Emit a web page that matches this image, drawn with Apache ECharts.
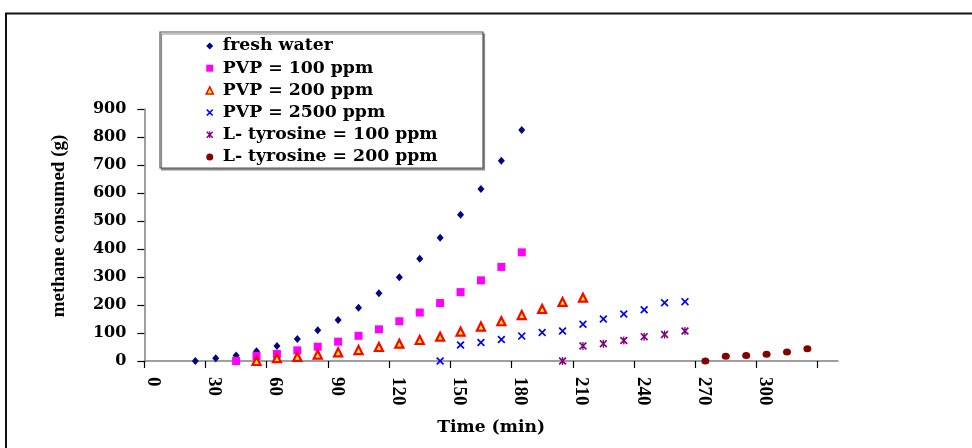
<!DOCTYPE html>
<html><head><meta charset="utf-8">
<script src="https://cdn.jsdelivr.net/npm/echarts@6/dist/echarts.min.js"></script>
<style>html,body{margin:0;padding:0;background:#fff}#c{width:972px;height:448px}</style>
</head><body><div id="c"></div>
<script>
// tick labels
const xTicks = [0,30,60,90,120,150,180,210,240,270,300,330];
const xLabels = [0,30,60,90,120,150,180,210,240,270,300];

// series (time in min, methane consumed in g)
const freshTime = [25,35,45,55,65,75,85,95,105,115,125,135,145,155,165,175,185];
const fresh     = [0,10,20,35,54,79,110,146,190,242,299,365,440,522,614,715,825];
const pvp100Time = [45,55,65,75,85,95,105,115,125,135,145,155,165,175,185];
const pvp100     = [0,18,25,38,51,69,90,113,142,173,207,246,288,336,388];
const pvp200Time = [55,65,75,85,95,105,115,125,135,145,155,165,175,185,195,205,215];
const pvp200     = [0,10,15,23,31,39,50,62,75,87,105,123,142,164,186,211,226];
const pvp2500Time = [145,155,165,175,185,195,205,215,225,235,245,255,265];
const pvp2500     = [0,57,66,77,89,102,107,131,150,168,183,208,212];
const tyr100Time = [205,215,225,235,245,255,265];
const tyr100     = [0,54,62,73,87,95,107];
const tyr200Time = [275,285,295,305,315,325];
const tyr200     = [0,17,20,24,32,44];

const names = ['fresh water','PVP = 100 ppm','PVP = 200 ppm','PVP = 2500 ppm','L- tyrosine = 100 ppm','L- tyrosine = 200 ppm'];

const crossPath = 'path://M1.5,0L5,3.5L8.5,0L10,1.5L6.5,5L10,8.5L8.5,10L5,6.5L1.5,10L0,8.5L3.5,5L0,1.5Z';
const starPath = 'path://M1.5,0L5,3.5L8.5,0L10,1.5L6.5,5L10,8.5L8.5,10L5,6.5L1.5,10L0,8.5L3.5,5L0,1.5Z M4.2,0L5.8,0L5.8,10L4.2,10Z';

function pairs(t, v) { return t.map((x, i) => [x, v[i]]); }

const serifB = {fontFamily: 'DejaVu Serif', fontWeight: 'bold', color: '#000'};
const timesB = {fontFamily: 'Liberation Serif', fontWeight: 'bold', color: '#000'};

const chart = echarts.init(document.getElementById('c'), null, {renderer: 'canvas'});
chart.setOption({
  animation: false,
  backgroundColor: '#fff',
  grid: {left: 144.3, right: 134, top: 109, bottom: 87, containLabel: false},
  graphic: [
    {type: 'polyline', z: 0, shape: {points: [[6, 448], [6, 13.5], [972, 13.5]]},
     style: {stroke: '#111', lineWidth: 2, fill: null}},
    {type: 'rect', z: 1, shape: {x: 160, y: 32, width: 323, height: 136},
     style: {fill: '#fff', stroke: '#555', lineWidth: 1.2,
             shadowColor: '#8a8a8a', shadowOffsetX: 1.5, shadowOffsetY: 2, shadowBlur: 0}}
  ],
  legend: {
    orient: 'vertical', left: 205.5, top: 37, padding: 0, itemGap: 4.2,
    itemWidth: 7, itemHeight: 7, z: 5, symbolKeepAspect: true,
    textStyle: Object.assign({fontSize: 17.3, lineHeight: 18, padding: [0, 0, 0, 4.5]}, serifB),
    data: [
      {name: names[0], icon: 'diamond', itemStyle: {color: '#000080'}},
      {name: names[1], icon: 'rect', itemStyle: {color: '#FF00FF'}},
      {name: names[2], icon: 'triangle', itemStyle: {color: '#FFFF00', borderColor: '#FF0000', borderWidth: 1.5}},
      {name: names[3], icon: crossPath, itemStyle: {color: '#0000FF'}},
      {name: names[4], icon: starPath, itemStyle: {color: '#800080'}},
      {name: names[5], icon: 'circle', itemStyle: {color: '#800000'}}
    ]
  },
  xAxis: {
    type: 'value', min: 0, max: 340, interval: 30,
    name: 'Time (min)', nameLocation: 'middle', nameGap: 58,
    nameTextStyle: Object.assign({fontSize: 17.2}, serifB),
    axisLine: {show: true, onZero: false, lineStyle: {color: '#808080', width: 1.5}},
    axisTick: {show: true, length: 7, customValues: xTicks, lineStyle: {color: '#000', width: 1.2}},
    axisLabel: Object.assign({customValues: xLabels, rotate: -90, margin: 16, fontSize: 19,
      verticalAlign: 'bottom', lineHeight: 17}, timesB),
    splitLine: {show: false}
  },
  yAxis: {
    type: 'value', min: 0, max: 900, interval: 100,
    name: 'methane consumed (g)', nameLocation: 'middle', nameGap: 76,
    nameTextStyle: Object.assign({fontSize: 19, padding: [0, 0, 0, 18]}, timesB),
    axisLine: {show: true, lineStyle: {color: '#808080', width: 1.5}},
    axisTick: {show: true, length: 7, lineStyle: {color: '#000', width: 1.2}},
    axisLabel: Object.assign({margin: 18, fontSize: 16}, serifB),
    splitLine: {show: false}
  },
  series: [
    {name: names[0], type: 'scatter', symbol: 'diamond', symbolSize: [7, 8],
     itemStyle: {color: '#000080', opacity: 1}, data: pairs(freshTime, fresh)},
    {name: names[1], type: 'scatter', symbol: 'rect', symbolSize: 8,
     itemStyle: {color: '#FF00FF', opacity: 1}, data: pairs(pvp100Time, pvp100)},
    {name: names[2], type: 'scatter', symbol: 'triangle', symbolSize: 8,
     itemStyle: {color: '#FFFF00', borderColor: '#FF0000', borderWidth: 2.2, opacity: 1}, data: pairs(pvp200Time, pvp200)},
    {name: names[3], type: 'scatter', symbol: crossPath, symbolSize: 8,
     itemStyle: {color: '#0000FF', opacity: 1}, data: pairs(pvp2500Time, pvp2500)},
    {name: names[4], type: 'scatter', symbol: starPath, symbolSize: 8,
     itemStyle: {color: '#800080', opacity: 1}, data: pairs(tyr100Time, tyr100)},
    {name: names[5], type: 'scatter', symbol: 'circle', symbolSize: [8, 7],
     itemStyle: {color: '#800000', opacity: 1}, data: pairs(tyr200Time, tyr200)}
  ]
});
</script>
</body></html>
